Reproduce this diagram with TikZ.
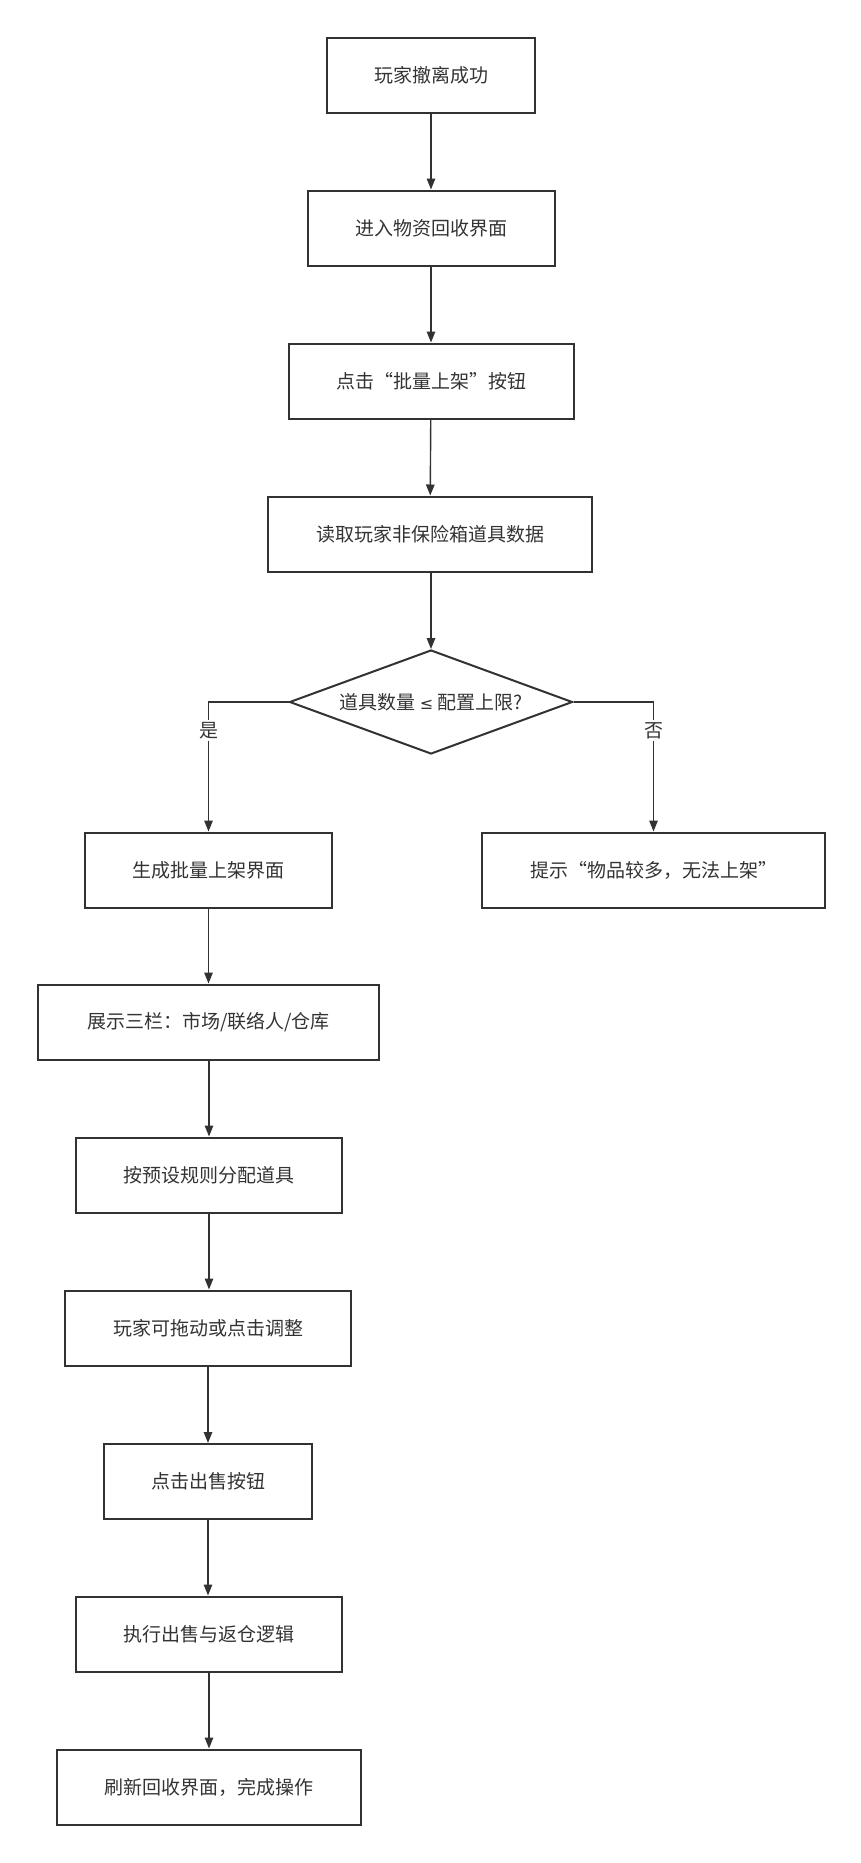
\documentclass[tikz,border=0pt]{standalone}
\usepackage{fontspec}
\newfontfamily\cjk{Noto Sans CJK SC}
\newfontfamily\symfont{DejaVu Sans}
\usetikzlibrary{arrows.meta,shapes.geometric}
\definecolor{linec}{HTML}{323232}
\definecolor{textc}{HTML}{333333}
\tikzset{
  proc/.style={draw=linec, line width=2pt, minimum height=75pt, inner sep=0pt,
    text=textc, font=\cjk\fontsize{19}{23}\selectfont},
  decide/.style={diamond, draw=linec, line width=2pt, aspect=2.7, inner sep=0pt,
    minimum width=283pt, minimum height=104pt, text=textc, font=\cjk\fontsize{19}{23}\selectfont},
  flow/.style={draw=linec, line width=1.4pt, -{Triangle[length=11pt,width=8.5pt]}},
  branch/.style={fill=white, inner sep=2pt, text=textc, font=\cjk\fontsize{19}{23}\selectfont}
}
\begin{document}
\begin{tikzpicture}[x=1pt, y=-1pt]
            % page
            \useasboundingbox (0,0) rectangle (861,1863);
            % main column
            \node[proc, minimum width=208pt](evac)at(431,75){玩家撤离成功};
            \node[proc, minimum width=247pt](enter)at(431,228){进入物资回收界面};
            \node[proc, minimum width=285pt](click)at(431,381){点击“批量上架”按钮};
            \node[proc, minimum width=324pt](read)at(430,534){读取玩家非保险箱道具数据};
            \node[decide](check)at(431,702){道具数量 {\symfont\fontsize{16}{20}\selectfont ≤} 配置上限?};
            % branches
            \node[proc, minimum width=247pt](gen)at(208.5,870){生成批量上架界面};
            \node[proc, minimum width=343pt](warn)at(653.5,870){提示“物品较多，无法上架”};
            % yes column
            \node[proc, minimum width=341pt](show)at(208.5,1022){展示三栏：市场/联络人/仓库};
            \node[proc, minimum width=266pt](assign)at(209,1175){按预设规则分配道具};
            \node[proc, minimum width=286pt](adjust)at(208,1328){玩家可拖动或点击调整};
            \node[proc, minimum width=208pt](sell)at(208,1481.5){点击出售按钮};
            \node[proc, minimum width=266pt](exec)at(209,1634){执行出售与返仓逻辑};
            \node[proc, minimum width=304pt](done)at(209,1787){刷新回收界面，完成操作};
            % arrows
            \draw[flow](evac)--(enter);
            \draw[flow](enter)--(click);
            \draw[flow](click)--(read);
            \draw[flow](read.south -| check.north)--(check.north);
            \draw[flow](check.west)-|node[branch, pos=0.61]{是}(gen.north);
            \draw[flow](check.east)-|node[branch, pos=0.61]{否}(warn.north);
            \draw[flow](gen)--(gen |- show.north);
            \draw[flow](show.south -| assign.north)--(assign);
            \draw[flow](assign)--(assign |- adjust.north);
            \draw[flow](adjust.south -| sell.north)--(sell);
            \draw[flow](sell)--(sell |- exec.north);
            \draw[flow](exec)--(done);
        \end{tikzpicture}
\end{document}
